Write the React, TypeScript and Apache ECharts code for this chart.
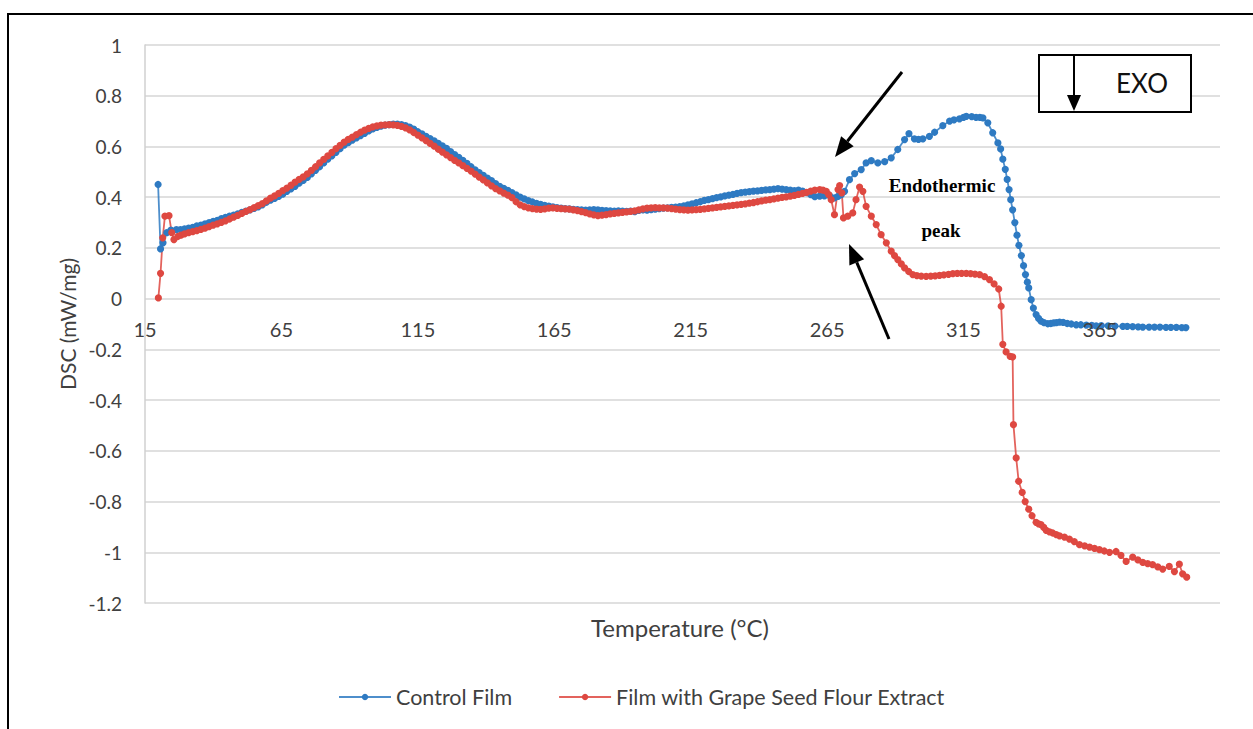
import React, { useEffect, useRef } from "react";
import * as echarts from "echarts";

// [temperature (°C), DSC (mW/mg)]
const controlFilm: number[][] = [
  [19.8, 0.45], [20.7, 0.196], [21.6, 0.22], [23, 0.26], [24.5, 0.27], [26.5, 0.272], [28, 0.272], [29.5, 0.275],
  [31, 0.278], [32.5, 0.281], [34, 0.287], [35.5, 0.29], [37, 0.295], [38.5, 0.3], [40, 0.305], [41.5, 0.309],
  [43, 0.315], [44.5, 0.32], [46, 0.325], [47.5, 0.329], [49, 0.334], [50.5, 0.34], [52, 0.345], [53.5, 0.35],
  [55, 0.356], [56.5, 0.362], [58, 0.37], [59.5, 0.38], [61, 0.388], [62.5, 0.395], [64, 0.403], [65.5, 0.412],
  [67, 0.423], [68.5, 0.433], [70, 0.443], [71.5, 0.455], [73, 0.466], [74.5, 0.478], [76, 0.492], [77.5, 0.506],
  [79, 0.52], [80.5, 0.535], [82, 0.55], [83.5, 0.563], [85, 0.577], [86.5, 0.591], [88, 0.605], [89.5, 0.615],
  [91, 0.625], [92.5, 0.634], [94, 0.643], [95.5, 0.652], [97, 0.661], [98.5, 0.669], [100, 0.675], [101.5, 0.68],
  [103, 0.684], [104.5, 0.686], [106, 0.688], [107.5, 0.688], [109, 0.686], [110.5, 0.682], [112, 0.676],
  [113.5, 0.668], [115, 0.658], [116.5, 0.65], [118, 0.64], [119.5, 0.631], [121, 0.622], [122.5, 0.612],
  [124, 0.602], [125.5, 0.592], [127, 0.58], [128.5, 0.568], [130, 0.557], [131.5, 0.545], [133, 0.533],
  [134.5, 0.52], [136, 0.508], [137.5, 0.497], [139, 0.486], [140.5, 0.475], [142, 0.465], [143.5, 0.453],
  [145, 0.443], [146.5, 0.435], [148, 0.427], [149.5, 0.418], [151, 0.409], [152.5, 0.4], [154, 0.393],
  [155.5, 0.386], [157, 0.381], [158.5, 0.376], [160, 0.372], [161.5, 0.368], [163, 0.365], [164.5, 0.362],
  [166, 0.359], [167.5, 0.357], [169, 0.355], [170.5, 0.354], [172, 0.352], [173.5, 0.351], [175, 0.35],
  [176.5, 0.349], [178, 0.35], [179.5, 0.351], [181, 0.35], [182.5, 0.348], [184, 0.347], [185.5, 0.346],
  [187, 0.345], [188.5, 0.346], [190, 0.345], [191.5, 0.344], [193, 0.345], [194.5, 0.343], [196, 0.348],
  [197.5, 0.35], [199, 0.349], [200.5, 0.351], [202, 0.353], [203.5, 0.355], [205, 0.357], [206.5, 0.358],
  [208, 0.36], [209.5, 0.361], [211, 0.363], [212.5, 0.366], [214, 0.37], [215.5, 0.374], [217, 0.378],
  [218.5, 0.382], [220, 0.387], [221.5, 0.39], [223, 0.394], [224.5, 0.398], [226, 0.401], [227.5, 0.405],
  [229, 0.408], [230.5, 0.411], [232, 0.415], [233.5, 0.418], [235, 0.42], [236.5, 0.422], [238, 0.424],
  [239.5, 0.425], [241, 0.427], [242.5, 0.429], [244, 0.43], [245.5, 0.432], [247, 0.434], [248.5, 0.432],
  [250, 0.43], [251.5, 0.428], [253, 0.426], [254.5, 0.428], [256, 0.424], [257.5, 0.418], [259, 0.41],
  [260.5, 0.402], [262.3, 0.404], [264, 0.405], [265.9, 0.406], [267.7, 0.397], [269, 0.403], [270.2, 0.41],
  [271.4, 0.423], [273.2, 0.469], [275.1, 0.493], [277.5, 0.509], [279.3, 0.535], [281.2, 0.544], [283.6, 0.535],
  [286.1, 0.54], [288.5, 0.555], [290.9, 0.588], [293.4, 0.627], [295, 0.651], [297, 0.63], [298.5, 0.628],
  [300.1, 0.63], [302.5, 0.64], [304.4, 0.656], [307.4, 0.682], [309.9, 0.7], [311.5, 0.705], [313.5, 0.709],
  [315, 0.715], [316, 0.719], [318, 0.718], [319.6, 0.715], [321, 0.715], [322.1, 0.713], [323.9, 0.693],
  [325.7, 0.654], [327.6, 0.614], [328.6, 0.59], [329.4, 0.55], [330.3, 0.51], [331, 0.47], [331.7, 0.43],
  [332.3, 0.39], [333, 0.35], [333.8, 0.3], [334.6, 0.25], [335.3, 0.21], [336.2, 0.17], [337, 0.13], [337.7, 0.095],
  [338.4, 0.065], [338.9, 0.042], [339.8, -0.004], [340.6, -0.037], [341.6, -0.063], [342.5, -0.078], [343.4, -0.089],
  [344.5, -0.095], [345.9, -0.099], [347, -0.098], [348, -0.096], [349, -0.095], [350.2, -0.093], [351.5, -0.094],
  [353, -0.098], [354.5, -0.1], [356.3, -0.103], [358, -0.103], [360, -0.104], [362, -0.105], [363.6, -0.107],
  [365.5, -0.106], [368, -0.107], [370.5, -0.108], [373.4, -0.109], [375, -0.109], [377, -0.11], [379, -0.111],
  [380.7, -0.112], [383, -0.112], [385, -0.112], [387, -0.112], [389.2, -0.113], [391, -0.113], [393, -0.113],
  [395, -0.114], [396.5, -0.114],
];

const grapeSeedFilm: number[][] = [
  [19.9, 0.003], [20.7, 0.1], [21.5, 0.24], [22.3, 0.325], [23.8, 0.327], [24.8, 0.26], [25.6, 0.233], [27, 0.245],
  [28.2, 0.25], [29.5, 0.255], [31, 0.26], [32.5, 0.264], [34, 0.268], [35.5, 0.273], [37, 0.278], [38.5, 0.284],
  [40, 0.29], [41.5, 0.295], [43, 0.301], [44.5, 0.307], [46, 0.314], [47.5, 0.321], [49, 0.328], [50.5, 0.336],
  [52, 0.344], [53.5, 0.351], [55, 0.359], [56.5, 0.367], [58, 0.375], [59.5, 0.385], [61, 0.396], [62.5, 0.405],
  [64, 0.415], [65.5, 0.426], [67, 0.436], [68.5, 0.447], [70, 0.459], [71.5, 0.47], [73, 0.48], [74.5, 0.492],
  [76, 0.506], [77.5, 0.52], [79, 0.535], [80.5, 0.549], [82, 0.563], [83.5, 0.577], [85, 0.591], [86.5, 0.604],
  [88, 0.617], [89.5, 0.628], [91, 0.637], [92.5, 0.647], [94, 0.656], [95.5, 0.664], [97, 0.671], [98.5, 0.677],
  [100, 0.681], [101.5, 0.684], [103, 0.685], [104.5, 0.686], [106, 0.685], [107.5, 0.683], [109, 0.679],
  [110.5, 0.673], [112, 0.665], [113.5, 0.655], [115, 0.645], [116.5, 0.634], [118, 0.623], [119.5, 0.612],
  [121, 0.601], [122.5, 0.589], [124, 0.578], [125.5, 0.567], [127, 0.556], [128.5, 0.545], [130, 0.535],
  [131.5, 0.524], [133, 0.514], [134.5, 0.503], [136, 0.491], [137.5, 0.479], [139, 0.468], [140.5, 0.456],
  [142, 0.445], [143.5, 0.434], [145, 0.425], [146.5, 0.416], [148, 0.408], [149.5, 0.398], [151, 0.382],
  [152.5, 0.37], [154, 0.363], [155.5, 0.358], [157, 0.355], [158.5, 0.353], [160, 0.352], [161.5, 0.354],
  [163, 0.357], [164.5, 0.358], [166, 0.356], [167.5, 0.355], [169, 0.354], [170.5, 0.353], [172, 0.35],
  [173.5, 0.347], [175, 0.343], [176.5, 0.339], [178, 0.334], [179.5, 0.33], [181, 0.327], [182.5, 0.329],
  [184, 0.331], [185.5, 0.334], [187, 0.336], [188.5, 0.338], [190, 0.34], [191.5, 0.342], [193, 0.344],
  [194.5, 0.346], [196, 0.35], [197.5, 0.354], [199, 0.357], [200.5, 0.358], [202, 0.359], [203.5, 0.358],
  [205, 0.358], [206.5, 0.357], [208, 0.355], [209.5, 0.353], [211, 0.351], [212.5, 0.35], [214, 0.349],
  [215.5, 0.35], [217, 0.351], [218.5, 0.352], [220, 0.354], [221.5, 0.356], [223, 0.358], [224.5, 0.36],
  [226, 0.362], [227.5, 0.364], [229, 0.366], [230.5, 0.368], [232, 0.37], [233.5, 0.372], [235, 0.374],
  [236.5, 0.377], [238, 0.379], [239.5, 0.382], [241, 0.385], [242.5, 0.388], [244, 0.39], [245.5, 0.393],
  [247, 0.396], [248.5, 0.399], [250, 0.401], [251.5, 0.404], [253, 0.407], [254.5, 0.411], [256, 0.415],
  [257.5, 0.419], [259, 0.424], [260.5, 0.428], [262.3, 0.43], [263.5, 0.428], [264.7, 0.423], [265.6, 0.41],
  [266.5, 0.39], [267.7, 0.331], [269, 0.43], [269.6, 0.446], [270.4, 0.417], [271, 0.318], [272.6, 0.325],
  [274.4, 0.338], [275.6, 0.39], [276.9, 0.44], [278.1, 0.423], [279.3, 0.364], [281.2, 0.325], [283, 0.292],
  [284.8, 0.252], [286.7, 0.22], [288.5, 0.187], [289.7, 0.17], [290.9, 0.154], [292.2, 0.137], [293.4, 0.121],
  [294.9, 0.107], [296.4, 0.095], [297.9, 0.091], [299.5, 0.089], [301.3, 0.088], [303, 0.089], [304.6, 0.09],
  [306.2, 0.092], [307.8, 0.094], [309.5, 0.096], [311.1, 0.099], [312.7, 0.1], [314.3, 0.1], [316, 0.1],
  [317.6, 0.099], [319.2, 0.097], [320.9, 0.095], [322.7, 0.087], [324.5, 0.075], [326.2, 0.058], [327.9, 0.038],
  [328.8, -0.03], [329.4, -0.18], [330.6, -0.21], [332.1, -0.228], [333, -0.23], [333.3, -0.497], [334.3, -0.628],
  [335.2, -0.72], [336.5, -0.764], [337.6, -0.8], [338.9, -0.83], [340.1, -0.856], [341.6, -0.882], [342.5, -0.888],
  [343.4, -0.891], [344.4, -0.902], [345.3, -0.914], [346.5, -0.92], [347.7, -0.924], [349, -0.93], [350.2, -0.935],
  [352, -0.94], [353.8, -0.948], [355.6, -0.958], [357.5, -0.97], [359.4, -0.975], [361.2, -0.98], [363, -0.985],
  [364.8, -0.99], [366.6, -0.995], [368.5, -1.0], [370.9, -0.997], [372.7, -1.012], [374.6, -1.036], [377, -1.019],
  [378.9, -1.03], [380.7, -1.04], [382.5, -1.045], [384.3, -1.049], [386.2, -1.058], [388, -1.066], [390.4, -1.056],
  [392.3, -1.076], [394.1, -1.047], [395.3, -1.085], [396.8, -1.098],
];

const seriesNames = ["Control Film", "Film with Grape Seed Flour Extract"];
const seriesColors = ["#2E7AC2", "#DE4841"];
const xTitle = "Temperature (°C)";
const yTitle = "DSC (mW/mg)";

const FONT = "Lato, 'Open Sans', sans-serif";

function arrow(x1: number, y1: number, tx: number, ty: number, len: number, half: number) {
  const dx = tx - x1;
  const dy = ty - y1;
  const d = Math.sqrt(dx * dx + dy * dy);
  const ux = dx / d;
  const uy = dy / d;
  const bx = tx - ux * len;
  const by = ty - uy * len;
  const nx = -uy;
  const ny = ux;
  return [
    {
      type: "line",
      shape: { x1, y1, x2: bx, y2: by },
      style: { stroke: "#000", lineWidth: 3 },
      z: 10,
    },
    {
      type: "polygon",
      shape: {
        points: [
          [tx, ty],
          [bx + nx * half, by + ny * half],
          [bx - nx * half, by - ny * half],
        ],
      },
      style: { fill: "#000" },
      z: 10,
    },
  ];
}

export default function App() {
  const ref = useRef<HTMLDivElement>(null);
  useEffect(() => {
    if (!ref.current) return;
    const chart = echarts.init(ref.current, undefined, { renderer: "svg" });
    const series = [
      { name: seriesNames[0], data: controlFilm, color: seriesColors[0] },
      { name: seriesNames[1], data: grapeSeedFilm, color: seriesColors[1] },
    ].map((s) => ({
      name: s.name,
      type: "line",
      data: s.data,
      symbol: "circle",
      symbolSize: 7.2,
      showSymbol: true,
      lineStyle: { width: 1.8, color: s.color, opacity: 0.85 },
      itemStyle: { color: s.color },
      emphasis: { disabled: true },
      z: 2,
    }));

    chart.setOption({
      animation: false,
      backgroundColor: "#fff",
      grid: { left: 145, right: 33, top: 45, bottom: 126, containLabel: false },
      xAxis: {
        type: "value",
        min: 15,
        max: 409,
        interval: 50,
        z: 5,
        position: "bottom",
        offset: -304.4,
        axisLine: { show: false, onZero: false },
        axisTick: { show: false },
        splitLine: { show: false },
        axisLabel: {
          showMaxLabel: false,
          margin: 20,
          fontSize: 20,
          color: "#404040",
          fontFamily: FONT,
        },
      },
      yAxis: {
        type: "value",
        min: -1.2,
        max: 1,
        interval: 0.2,
        name: yTitle,
        nameLocation: "middle",
        nameGap: 66,
        nameTextStyle: { fontSize: 21, color: "#404040", fontFamily: FONT },
        axisLine: { show: true, lineStyle: { color: "#D0D0D0", width: 1.5 } },
        axisTick: { show: false },
        splitLine: { show: true, lineStyle: { color: "#D6D6D6", width: 1.5 } },
        axisLabel: {
          margin: 23,
          fontSize: 19,
          color: "#404040",
          fontFamily: FONT,
          formatter: (v: number) => String(Math.round(v * 10) / 10),
        },
      },
      legend: {
        data: seriesNames,
        left: 333,
        top: 681,
        itemWidth: 52,
        itemHeight: 8,
        itemGap: 46,
        textStyle: { fontSize: 21.5, color: "#404040", fontFamily: FONT },
      },
      graphic: [
        {
          type: "rect",
          shape: { x: 8, y: 14, width: 1300, height: 800 },
          style: { fill: "none", stroke: "#000", lineWidth: 2 },
          z: 0,
          silent: true,
        },
        {
          type: "text",
          x: 680,
          y: 627,
          style: {
            text: xTitle,
            fontSize: 24,
            fill: "#404040",
            fontFamily: FONT,
            align: "center",
            verticalAlign: "middle",
          },
        },
        {
          type: "rect",
          shape: { x: 1039, y: 55, width: 152, height: 57 },
          style: { fill: "#fff", stroke: "#000", lineWidth: 2 },
          z: 10,
        },
        {
          type: "line",
          shape: { x1: 1074, y1: 55, x2: 1074, y2: 96 },
          style: { stroke: "#000", lineWidth: 2 },
          z: 11,
        },
        {
          type: "polygon",
          shape: { points: [[1074, 111], [1067, 95], [1081, 95]] },
          style: { fill: "#000" },
          z: 11,
        },
        {
          type: "text",
          x: 1142,
          y: 83,
          style: {
            text: "EXO",
            fontSize: 26,
            fill: "#111",
            fontFamily: FONT,
            align: "center",
            verticalAlign: "middle",
          },
          z: 11,
        },
        ...arrow(902, 72, 835, 157, 20, 8),
        ...arrow(889, 339, 849, 244, 20, 8),
        {
          type: "text",
          x: 942,
          y: 185,
          style: {
            text: "Endothermic",
            fontSize: 19,
            fontWeight: "bold",
            fill: "#000",
            fontFamily: "'Liberation Serif', 'DejaVu Serif', serif",
            align: "center",
            verticalAlign: "middle",
          },
          z: 10,
        },
        {
          type: "text",
          x: 941,
          y: 230,
          style: {
            text: "peak",
            fontSize: 19,
            fontWeight: "bold",
            fill: "#000",
            fontFamily: "'Liberation Serif', 'DejaVu Serif', serif",
            align: "center",
            verticalAlign: "middle",
          },
          z: 10,
        },
      ],
      series,
    });
    return () => chart.dispose();
  }, []);
  return (
    <div
      ref={ref}
      style={{ position: "fixed", left: 0, top: 0, width: 1253, height: 729, background: "#fff" }}
    />
  );
}
